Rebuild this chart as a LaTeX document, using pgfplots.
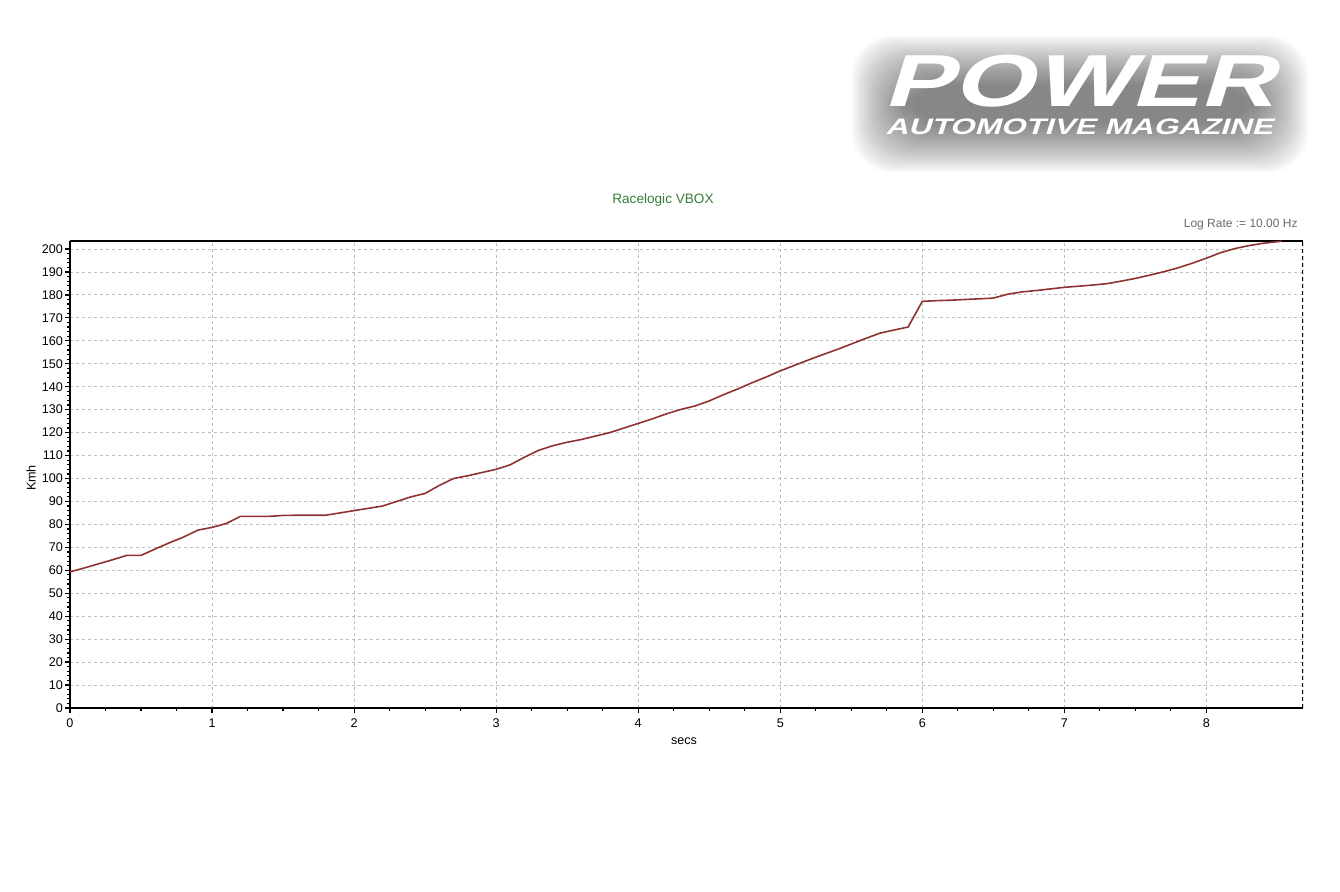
\documentclass[border=0pt]{standalone}
\usepackage{fontspec}
\setmainfont{Liberation Sans}
\newfontfamily\logofont[FakeSlant=0.22]{Liberation Sans}
\usepackage{pgfplots}
\pgfplotsset{compat=1.18}
\definecolor{vline}{RGB}{145,50,50}
\definecolor{titlegreen}{RGB}{55,125,55}
\definecolor{lograte}{RGB}{105,105,105}
\definecolor{gridgray}{RGB}{190,190,190}
\begin{document}
\begin{tikzpicture}
\useasboundingbox (0,0) rectangle (670pt,446pt);
% logo glow
\foreach \i in {0,...,22} {
  \fill[black, opacity=0.026, rounded corners=20pt] ({426pt+\i*1.2pt},{360pt+\i*1.1pt}) rectangle ({654pt-\i*1.2pt},{428pt-\i*1.1pt});
}
\node[inner sep=0, text=white, align=center, anchor=south, font=\logofont\bfseries\fontsize{11.2}{13.7}\selectfont] at (539.5pt,378.5pt)
  {\scalebox{1.36}[0.97]{\fontsize{38}{38}\selectfont POWER}\\\scalebox{1.41}[1]{AUTOMOTIVE MAGAZINE}};
% titles and labels
\node[text=titlegreen, inner sep=0] at (331.5pt,346pt) {\fontsize{6.8}{8}\selectfont Racelogic VBOX};
\node[text=lograte, inner sep=0, anchor=east] at (649pt,333.5pt) {\fontsize{6}{7}\selectfont Log Rate := 10.00 Hz};
\node[inner sep=0, rotate=90] at (15.5pt,207pt) {\fontsize{6.3}{7}\selectfont Kmh};
\node[inner sep=0] at (342pt,75.5pt) {\fontsize{6.3}{7}\selectfont secs};
\begin{axis}[
  at={(35pt,92pt)}, anchor=south west, scale only axis,
  width=616.5pt, height=233.5pt,
  xmin=0, xmax=8.68, ymin=0, ymax=203.5,
  axis lines=left, axis line style={-, line width=1pt, black},
  xtick={0,1,...,8}, ytick={0,10,...,200},
  minor x tick num=3, minor y tick num=4,
  tick align=outside, major tick length=2.5pt, minor tick length=1.5pt,
  tick style={black, line width=0.6pt},
  grid=major, major grid style={gridgray, line width=0.45pt, dash pattern=on 1.5pt off 1.5pt},
  ticklabel style={font=\fontsize{6.3}{7}\selectfont},
  /pgf/number format/assume math mode=true,
  yticklabel style={inner sep=0pt, xshift=-0.8pt},
  xticklabel style={yshift=0.5pt},
]
\draw[black, line width=0.8pt] (rel axis cs:0,1) -- (rel axis cs:1,1);
\draw[cyan!35!white, line width=0.5pt] (rel axis cs:1,0) -- (rel axis cs:1,1);
\draw[black, line width=0.9pt, dash pattern=on 2pt off 1.5pt] (rel axis cs:1,0) -- (rel axis cs:1,1);
\addplot[vline, line width=0.8pt, no marks] coordinates {
(0,59.3) (0.1,61) (0.2,62.8) (0.3,64.6) (0.4,66.5) (0.5,66.5) (0.6,69.3) (0.7,72)
(0.8,74.5) (0.9,77.5) (1.0,78.7) (1.1,80.4) (1.2,83.5) (1.3,83.5) (1.4,83.5) (1.5,83.9)
(1.6,84) (1.7,84) (1.8,84) (1.9,85) (2.0,86) (2.1,87) (2.2,88) (2.3,90) (2.4,92)
(2.5,93.5) (2.6,97) (2.7,100) (2.8,101.2) (2.9,102.6) (3.0,104) (3.1,106) (3.2,109.3)
(3.3,112.3) (3.4,114.3) (3.5,115.8) (3.6,117) (3.7,118.5) (3.8,120) (3.9,122) (4.0,124)
(4.1,126) (4.2,128.2) (4.3,130.1) (4.4,131.6) (4.5,133.8) (4.6,136.5) (4.7,139)
(4.8,141.7) (4.9,144.2) (5.0,146.9) (5.1,149.3) (5.2,151.7) (5.3,154) (5.4,156.2)
(5.5,158.6) (5.6,161) (5.7,163.3) (5.8,164.7) (5.9,166) (6.0,177.2) (6.1,177.5)
(6.2,177.7) (6.3,178) (6.4,178.3) (6.5,178.6) (6.6,180.3) (6.7,181.3) (6.8,181.9)
(6.9,182.6) (7.0,183.3) (7.1,183.8) (7.2,184.3) (7.3,184.9) (7.4,186) (7.5,187.2)
(7.6,188.6) (7.7,190.1) (7.8,191.8) (7.9,193.8) (8.0,196) (8.1,198.4) (8.2,200.2)
(8.3,201.5) (8.4,202.5) (8.5,203.2) (8.53,203.4)
};
\end{axis}
\end{tikzpicture}
\end{document}
